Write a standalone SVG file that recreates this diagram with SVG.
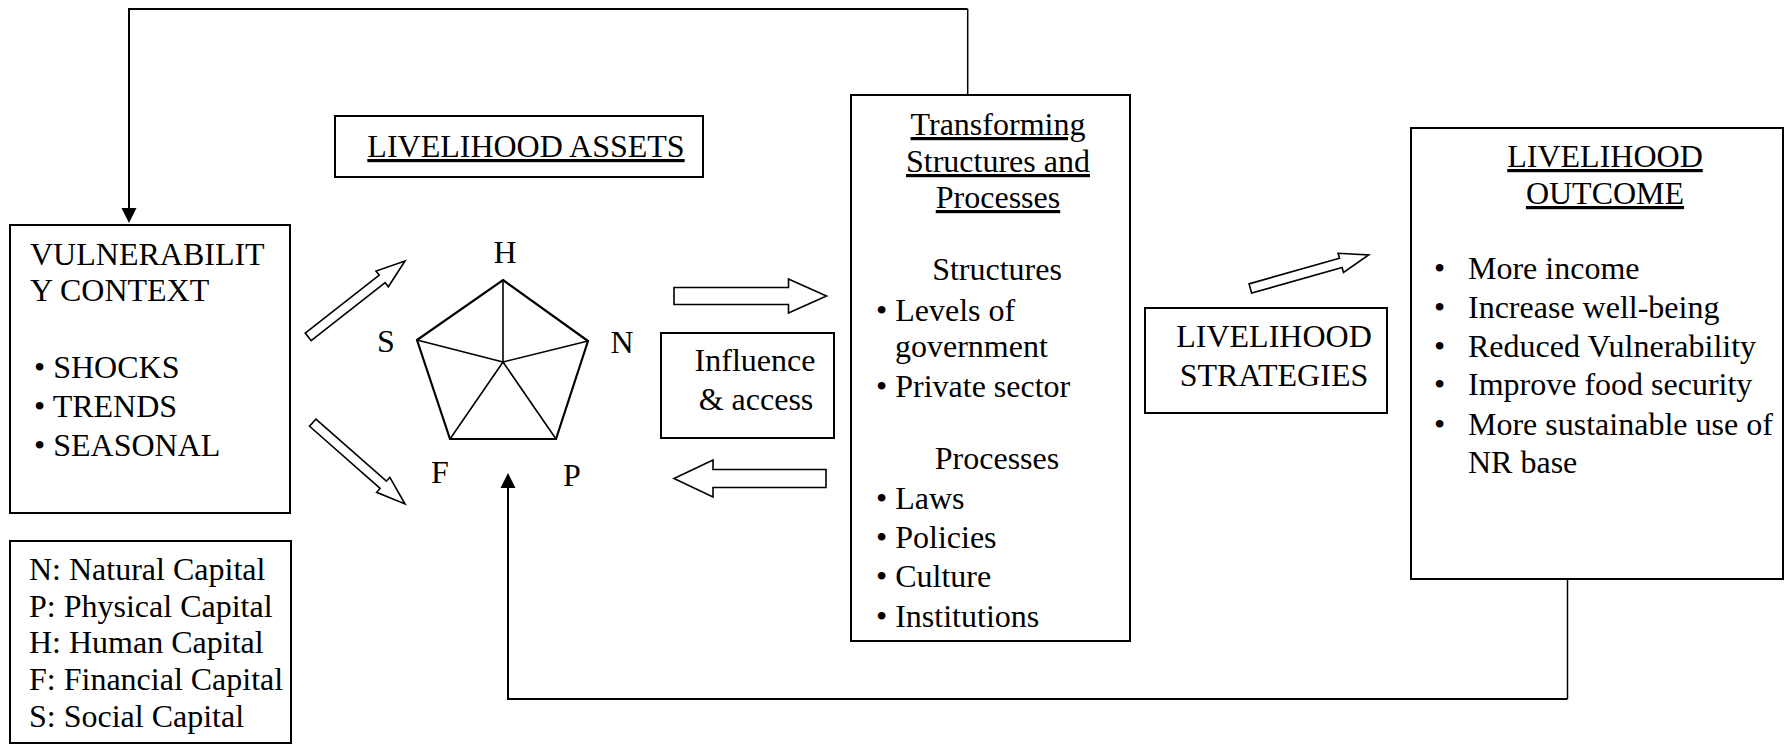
<svg xmlns="http://www.w3.org/2000/svg" width="1785" height="745" viewBox="0 0 1785 745">
  <style>
    text { font-family: "Liberation Serif", "Times New Roman", serif; font-size: 32px; fill: #000; }
    .box { fill: #fff; stroke: #000; stroke-width: 2; }
    .ul { text-decoration: underline; }
    .mid { text-anchor: middle; }
    .wire { fill: none; stroke: #000; stroke-width: 2; }
    .thin { fill: none; stroke: #000; stroke-width: 1.5; }
    .hollow { fill: #fff; stroke: #000; stroke-width: 1.6; stroke-linejoin: miter; }
    .pent { fill: none; stroke: #000; stroke-width: 2.2; stroke-linejoin: miter; }
    .spoke { fill: none; stroke: #000; stroke-width: 1.6; }
  </style>
  <defs>
    <!-- thin diagonal block arrow, tip at origin pointing along +x -->
    <polygon id="diagArrow" points="-123,-4.8 -29,-4.8 -29,-10 0,0 -29,10 -29,4.8 -123,4.8"/>
  </defs>

  <rect width="1785" height="745" fill="#fff"/>

  <!-- connectors -->
  <g id="connectors">
    <!-- feedback from transforming structures to vulnerability context -->
    <polyline class="thin" points="967.7,95 967.7,9"/>
    <polyline class="wire" points="967.7,9 129,9 129,210"/>
    <polygon points="121.5,208 136.5,208 129,223" fill="#000"/>
    <!-- feedback from outcomes to assets -->
    <polyline class="thin" points="1567.5,579 1567.5,699"/>
    <polyline class="wire" points="1567.5,699 508,699 508,486"/>
    <polygon points="500.5,488 515.5,488 508,473" fill="#000"/>
    <!-- vulnerability to assets -->
    <use href="#diagArrow" class="hollow" transform="translate(405,261) rotate(-38.1)"/>
    <use href="#diagArrow" class="hollow" transform="translate(405,504) rotate(41.4)"/>
    <!-- assets <-> transforming structures -->
    <polygon class="hollow" points="674,287.5 788.5,287.5 788.5,279 826.5,296 788.5,313 788.5,304.5 674,304.5"/>
    <polygon class="hollow" points="826,469.5 713,469.5 713,460 674,478.5 713,497 713,487.5 826,487.5"/>
    <!-- strategies to outcomes -->
    <use href="#diagArrow" class="hollow" transform="translate(1368.7,255) rotate(-15.8)"/>
  </g>

  <!-- vulnerability context -->
  <g id="vulnerability">
    <rect class="box" x="10" y="225" width="280" height="288"/>
    <text x="30" y="265">VULNERABILIT</text>
    <text x="30" y="301">Y CONTEXT</text>
    <text x="34" y="378">• SHOCKS</text>
    <text x="34" y="417">• TRENDS</text>
    <text x="34" y="456">• SEASONAL</text>
  </g>

  <!-- capital legend -->
  <g id="legend">
    <rect class="box" x="10" y="541" width="281" height="202"/>
    <text x="29" y="580">N: Natural Capital</text>
    <text x="29" y="617">P: Physical Capital</text>
    <text x="29" y="653">H: Human Capital</text>
    <text x="29" y="690">F: Financial Capital</text>
    <text x="29" y="727">S: Social Capital</text>
  </g>

  <!-- livelihood assets heading -->
  <g id="assets-title">
    <rect class="box" x="335" y="116" width="368" height="61"/>
    <text class="ul mid" x="526" y="157">LIVELIHOOD ASSETS</text>
  </g>

  <!-- asset pentagon -->
  <g id="pentagon">
    <polygon class="pent" points="503,280 588,341 556,439 450,439 417,340"/>
    <path class="spoke" d="M503,362 L503,280 M503,362 L588,341 M503,362 L556,439 M503,362 L450,439 M503,362 L417,340"/>
    <text class="mid" x="505" y="263">H</text>
    <text class="mid" x="622" y="353">N</text>
    <text class="mid" x="572" y="486">P</text>
    <text class="mid" x="440" y="483">F</text>
    <text class="mid" x="386" y="352">S</text>
  </g>

  <!-- influence and access -->
  <g id="influence">
    <rect class="box" x="661" y="333" width="173" height="105"/>
    <text class="mid" x="755" y="371">Influence</text>
    <text class="mid" x="756" y="410">&amp; access</text>
  </g>

  <!-- transforming structures and processes -->
  <g id="transforming">
    <rect class="box" x="851" y="95" width="279" height="546"/>
    <text class="ul mid" x="998" y="135">Transforming</text>
    <text class="ul mid" x="998" y="172">Structures and</text>
    <text class="ul mid" x="998" y="208">Processes</text>
    <text class="mid" x="997" y="280">Structures</text>
    <text x="876" y="321">• Levels of</text>
    <text x="895" y="357">government</text>
    <text x="876" y="397">• Private sector</text>
    <text class="mid" x="997" y="469">Processes</text>
    <text x="876" y="509">• Laws</text>
    <text x="876" y="548">• Policies</text>
    <text x="876" y="587">• Culture</text>
    <text x="876" y="627">• Institutions</text>
  </g>

  <!-- livelihood strategies -->
  <g id="strategies">
    <rect class="box" x="1145" y="308" width="242" height="105"/>
    <text class="mid" x="1274" y="347">LIVELIHOOD</text>
    <text class="mid" x="1274" y="386">STRATEGIES</text>
  </g>

  <!-- livelihood outcome -->
  <g id="outcome">
    <rect class="box" x="1411" y="128" width="372" height="451"/>
    <text class="ul mid" x="1605" y="167">LIVELIHOOD</text>
    <text class="ul mid" x="1605" y="204">OUTCOME</text>
    <text x="1434" y="279">•</text><text x="1468" y="279">More income</text>
    <text x="1434" y="318">•</text><text x="1468" y="318">Increase well-being</text>
    <text x="1434" y="357">•</text><text x="1468" y="357">Reduced Vulnerability</text>
    <text x="1434" y="395">•</text><text x="1468" y="395">Improve food security</text>
    <text x="1434" y="435">•</text><text x="1468" y="435">More sustainable use of</text>
    <text x="1468" y="473">NR base</text>
  </g>
</svg>
